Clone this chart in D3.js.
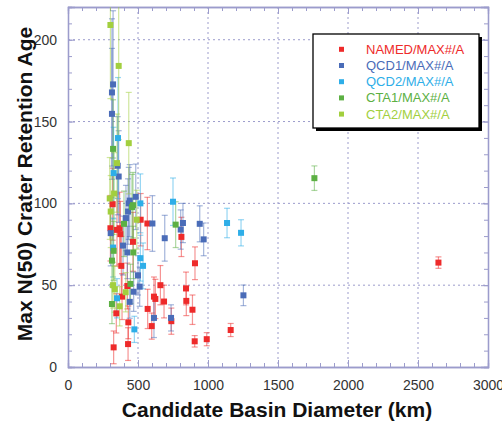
<!DOCTYPE html>
<html><head><meta charset="utf-8">
<script src="https://cdn.jsdelivr.net/npm/d3@7"></script>
<style>body{margin:0;background:#fff}svg{display:block}</style>
</head><body>
<script>
// ---- data ----
const seriesNames = ["NAMED/MAX#/A","QCD1/MAX#/A","QCD2/MAX#/A","CTA1/MAX#/A","CTA2/MAX#/A"];
const seriesColors = ["#ee2a2a","#4a6cb8","#2eaee8","#5cb043","#a2cf3e"];
const xTicks = [0,500,1000,1500,2000,2500,3000];
const yTicks = [0,50,100,150,200];

// [diameter km, age, error]
const named = [[303,84.8,20],[319,99.5,22],[326,12,10],[345,32.8,12],[350,83.8,22],[369,84.8,22],[374,81.2,20],[381,61.8,18],[386,43,14],[424,49.5,14],[429,14,10],[431,27.3,10],[464,76.5,18],[519,90,16],[567,87.7,16],[569,35.5,12],[598,25,8],[614,43,12],[624,41.6,12],[660,50,12],[686,40,10],[738,28,8],[810,79.5,12],[843,48,10],[845,40.4,9],[889,35,9],[907,63.4,10],[905,15.7,3.5],[991,17,4],[1162,22.6,4],[2646,63.8,3.5]];
const qcd1 = [[305,81.8,20],[314,167.8,45],[314,154.7,40],[322,172.7,45],[355,123,30],[362,116.4,28],[393,74.2,18],[414,91,20],[424,70,16],[429,95,20],[434,100,22],[441,101.7,22],[441,39.8,10],[469,46,12],[484,104,20],[500,56,12],[512,49.1,12],[603,87.7,17],[614,30,12],[691,78.7,14],[736,30,8],[805,84,12],[821,88,12],[941,87.5,11],[969,78,10],[1253,43.8,6.3]];
const qcd2 = [[322,73,18],[326,118.5,28],[350,42,12],[357,139.9,37],[474,23,8],[517,100,18],[517,66.5,14],[536,61.8,14],[750,101,14.5],[1136,88,9],[1236,82,8]];
const cta1 = [[322,133.3,30],[326,71,18],[314,65,16],[457,97.7,20],[464,98.9,20],[467,70,16],[446,50.8,12],[314,38.5,12],[769,87,14],[1760,115.4,7.5],[400,87.5,20]];
const cta2 = [[303,209,45],[362,184,45],[434,136.8,31],[350,124.6,30],[329,106,25],[298,103,25],[305,95,22],[491,90,18],[322,50,14],[334,47.5,14],[412,45.7,12],[369,37.1,12]];
const allSeries = [named,qcd1,qcd2,cta1,cta2];

// ---- layout ----
const W=502,H=421;
const L=68,R=488,T=7,B=367;
const axisCol="#9c9ccc";
const svg=d3.select("body").append("svg").attr("width",W).attr("height",H)
  .style("font-family","Liberation Sans, Arial, sans-serif");

const x=d3.scaleLinear().domain([0,3000]).range([L,R]);
const y=d3.scaleLinear().domain([0,220]).range([B,T]);

svg.append("defs").append("clipPath").attr("id","clip")
  .append("rect").attr("x",L).attr("y",T).attr("width",R-L).attr("height",B-T);

// grid
const grid=svg.append("g").attr("stroke",axisCol).attr("stroke-width",1).attr("stroke-dasharray","2,3");
xTicks.filter(t=>t>0&&t<3000).forEach(t=>grid.append("line").attr("x1",x(t)).attr("x2",x(t)).attr("y1",T).attr("y2",B));
yTicks.filter(t=>t>0).forEach(t=>grid.append("line").attr("x1",L).attr("x2",R).attr("y1",y(t)).attr("y2",y(t)));

// axes with inward ticks
const xMinor=d3.range(0,3001,100), yMinor=d3.range(0,221,10);
const gB=svg.append("g").attr("transform",`translate(0,${B})`)
  .call(d3.axisBottom(x).tickValues(xMinor).tickSize(-4).tickFormat(""));
const gB2=svg.append("g").attr("transform",`translate(0,${B})`)
  .call(d3.axisBottom(x).tickValues(xTicks).tickSize(-7).tickPadding(13).tickFormat(d3.format("d")));
const gT=svg.append("g").attr("transform",`translate(0,${T})`)
  .call(d3.axisTop(x).tickValues(xMinor).tickSize(-4).tickFormat(""));
const gT2=svg.append("g").attr("transform",`translate(0,${T})`)
  .call(d3.axisTop(x).tickValues(xTicks).tickSize(-7).tickFormat(""));
const gL=svg.append("g").attr("transform",`translate(${L},0)`)
  .call(d3.axisLeft(y).tickValues(yMinor).tickSize(-4).tickFormat(""));
const gL2=svg.append("g").attr("transform",`translate(${L},0)`)
  .call(d3.axisLeft(y).tickValues(yTicks).tickSize(-7).tickPadding(11).tickFormat(d3.format("d")));
const gR=svg.append("g").attr("transform",`translate(${R},0)`)
  .call(d3.axisRight(y).tickValues(yMinor).tickSize(-4).tickFormat(""));
const gR2=svg.append("g").attr("transform",`translate(${R},0)`)
  .call(d3.axisRight(y).tickValues(yTicks).tickSize(-7).tickFormat(""));
[gB,gB2,gT,gT2,gL,gL2,gR,gR2].forEach(g=>{
  g.selectAll("path").attr("stroke",axisCol).attr("stroke-width",1.3);
  g.selectAll("line").attr("stroke",axisCol);
  g.selectAll("text").attr("fill","#333").style("font-size","14px").style("font-family","Liberation Sans, Arial, sans-serif");
});

// data
const plot=svg.append("g").attr("clip-path","url(#clip)");
allSeries.forEach((data,i)=>{
  const col=seriesColors[i];
  const g=plot.append("g");
  const eb=g.selectAll("g.eb").data(data).enter().append("g").attr("stroke",col).attr("stroke-opacity",0.5).attr("stroke-width",1.2);
  eb.append("line").attr("x1",d=>x(d[0])).attr("x2",d=>x(d[0])).attr("y1",d=>y(d[1]-d[2])).attr("y2",d=>y(d[1]+d[2]));
  eb.append("line").attr("x1",d=>x(d[0])-3).attr("x2",d=>x(d[0])+3).attr("y1",d=>y(d[1]-d[2])).attr("y2",d=>y(d[1]-d[2]));
  eb.append("line").attr("x1",d=>x(d[0])-3).attr("x2",d=>x(d[0])+3).attr("y1",d=>y(d[1]+d[2])).attr("y2",d=>y(d[1]+d[2]));
});
allSeries.forEach((data,i)=>{
  plot.append("g").selectAll("rect").data(data).enter().append("rect")
    .attr("x",d=>x(d[0])-3).attr("y",d=>y(d[1])-3).attr("width",6).attr("height",6)
    .attr("fill",seriesColors[i]);
});

// axis titles
svg.append("text").attr("x",(L+R)/2-1).attr("y",417).attr("text-anchor","middle")
  .style("font-size","21px").style("font-weight","bold").attr("fill","#111").text("Candidate Basin Diameter (km)");
svg.append("text").attr("transform",`translate(32,${(T+B)/2-3}) rotate(-90)`).attr("text-anchor","middle")
  .style("font-size","21px").style("font-weight","bold").attr("fill","#111").text("Max N(50) Crater Retention Age");

// legend
const lg=svg.append("g");
lg.append("rect").attr("x",316).attr("y",37).attr("width",166).attr("height",94).attr("fill","#000");
lg.append("rect").attr("x",313).attr("y",34).attr("width",166).attr("height",94).attr("fill","#fff").attr("stroke","#000").attr("stroke-width",1.3);
seriesNames.forEach((n,i)=>{
  const cy=49.3+i*16.2;
  lg.append("rect").attr("x",339).attr("y",cy-2.5).attr("width",5).attr("height",5).attr("fill",seriesColors[i]);
  lg.append("text").attr("x",366).attr("y",cy+4.5).style("font-size","13px").attr("fill",seriesColors[i]).text(n);
});
</script>
</body></html>
